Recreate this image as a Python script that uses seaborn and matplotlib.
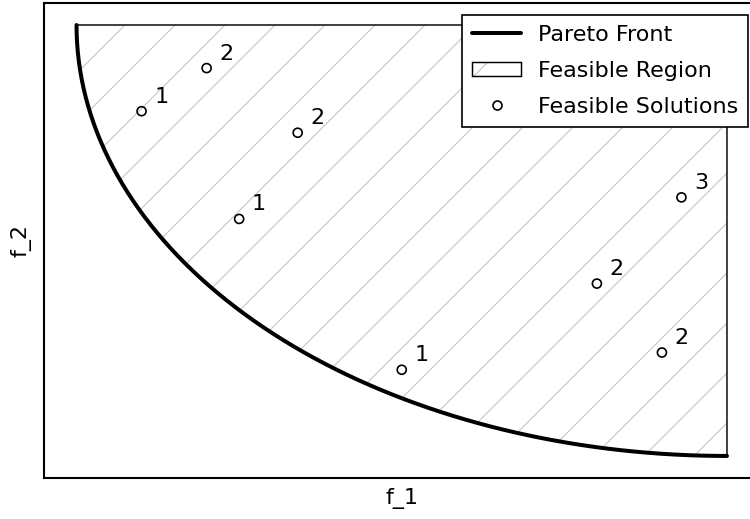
import numpy as np
import pandas as pd
import matplotlib
matplotlib.use("Agg")
import matplotlib.pyplot as plt
from matplotlib.patches import Polygon, Patch
from matplotlib.lines import Line2D
from matplotlib.legend_handler import HandlerTuple
import seaborn as sns

# Feasible solutions in objective space and their non-domination rank
sol_f1 = [0.10, 0.20, 0.34, 0.25, 0.50, 0.80, 0.93, 0.90]
sol_f2 = [0.80, 0.90, 0.75, 0.55, 0.20, 0.40, 0.60, 0.24]
sol_rank = [1, 2, 2, 1, 1, 2, 3, 2]

# Pareto front: quarter circle of radius 1 centred on the corner (1, 1)
front_center = (1.0, 1.0)
front_radius = 1.0
theta = np.linspace(0.0, np.pi / 2, 300)
front_f1 = front_center[0] - front_radius * np.cos(theta)
front_f2 = front_center[1] - front_radius * np.sin(theta)

front = pd.DataFrame({"f_1": front_f1, "f_2": front_f2})
solutions = pd.DataFrame({"f_1": sol_f1, "f_2": sol_f2, "rank": sol_rank})

sns.set_theme(style="white")
plt.rcParams["font.family"] = ["DejaVu Sans"]
plt.rcParams["text.color"] = "black"
plt.rcParams["axes.labelcolor"] = "black"
plt.rcParams["hatch.linewidth"] = 0.25

FS = 5.35
HATCH_GRAY = "#c4c4c4"

W, H = 750, 519
DPI = 300
fig = plt.figure(figsize=(W / DPI, H / DPI), dpi=DPI)
ax = fig.add_axes([44 / W, 1 - 477.5 / H, (759.5 - 44) / W, (477.5 - 3.45) / H])

# Feasible region: everything dominated by the front, up to the (1, 1) corner
region_xy = np.column_stack([np.r_[front_f1, front_center[0]],
                             np.r_[front_f2, front_center[1]]])
ax.add_patch(Polygon(region_xy, closed=True, facecolor="none",
                     edgecolor=HATCH_GRAY, linewidth=0, hatch="//", zorder=1))
ax.add_patch(Polygon(region_xy, closed=True, facecolor="none",
                     edgecolor="black", linewidth=0.35, zorder=1.5))

sns.lineplot(data=front, x="f_1", y="f_2", color="black", linewidth=0.96,
             sort=False, estimator=None, ax=ax, zorder=3)

sns.scatterplot(data=solutions, x="f_1", y="f_2", marker="o", s=4.7,
                facecolor="none", edgecolor="black", linewidth=0.4,
                ax=ax, zorder=4)

for x, y, r in zip(sol_f1, sol_f2, sol_rank):
    ax.annotate(str(r), (x, y), xytext=(3.1, 2.05), textcoords="offset points",
                ha="left", va="baseline", fontsize=FS, color="black")

ax.set_xlim(-0.05, 1.05)
ax.set_ylim(-0.05, 1.05)
ax.set_xticks([])
ax.set_yticks([])
ax.set_xlabel("f_1", fontsize=FS, labelpad=2.6)
ax.set_ylabel("f_2", fontsize=FS, labelpad=2.9)
for sp in ax.spines.values():
    sp.set_color("black")
    sp.set_linewidth(0.5)

h_front = Line2D([], [], color="black", linewidth=0.96)
h_region = (Patch(facecolor="white", edgecolor=HATCH_GRAY, linewidth=0, hatch="//"),
            Patch(facecolor="none", edgecolor="black", linewidth=0.35))
h_sol = Line2D([], [], linestyle="none", marker="o", markersize=2.16,
               markerfacecolor="none", markeredgecolor="black", markeredgewidth=0.4)
leg = ax.legend([h_front, h_region, h_sol],
                ["Pareto Front", "Feasible Region", "Feasible Solutions"],
                handler_map={tuple: HandlerTuple(ndivide=1, pad=0)},
                loc="upper right", fontsize=FS, fancybox=False, framealpha=1,
                edgecolor="black", handlelength=2.2, handleheight=0.6,
                handletextpad=0.75, labelspacing=0.72, borderpad=0.45)
leg.get_frame().set_linewidth(0.4)
leg.set_zorder(10)

fig.savefig("out.png", dpi=DPI)
